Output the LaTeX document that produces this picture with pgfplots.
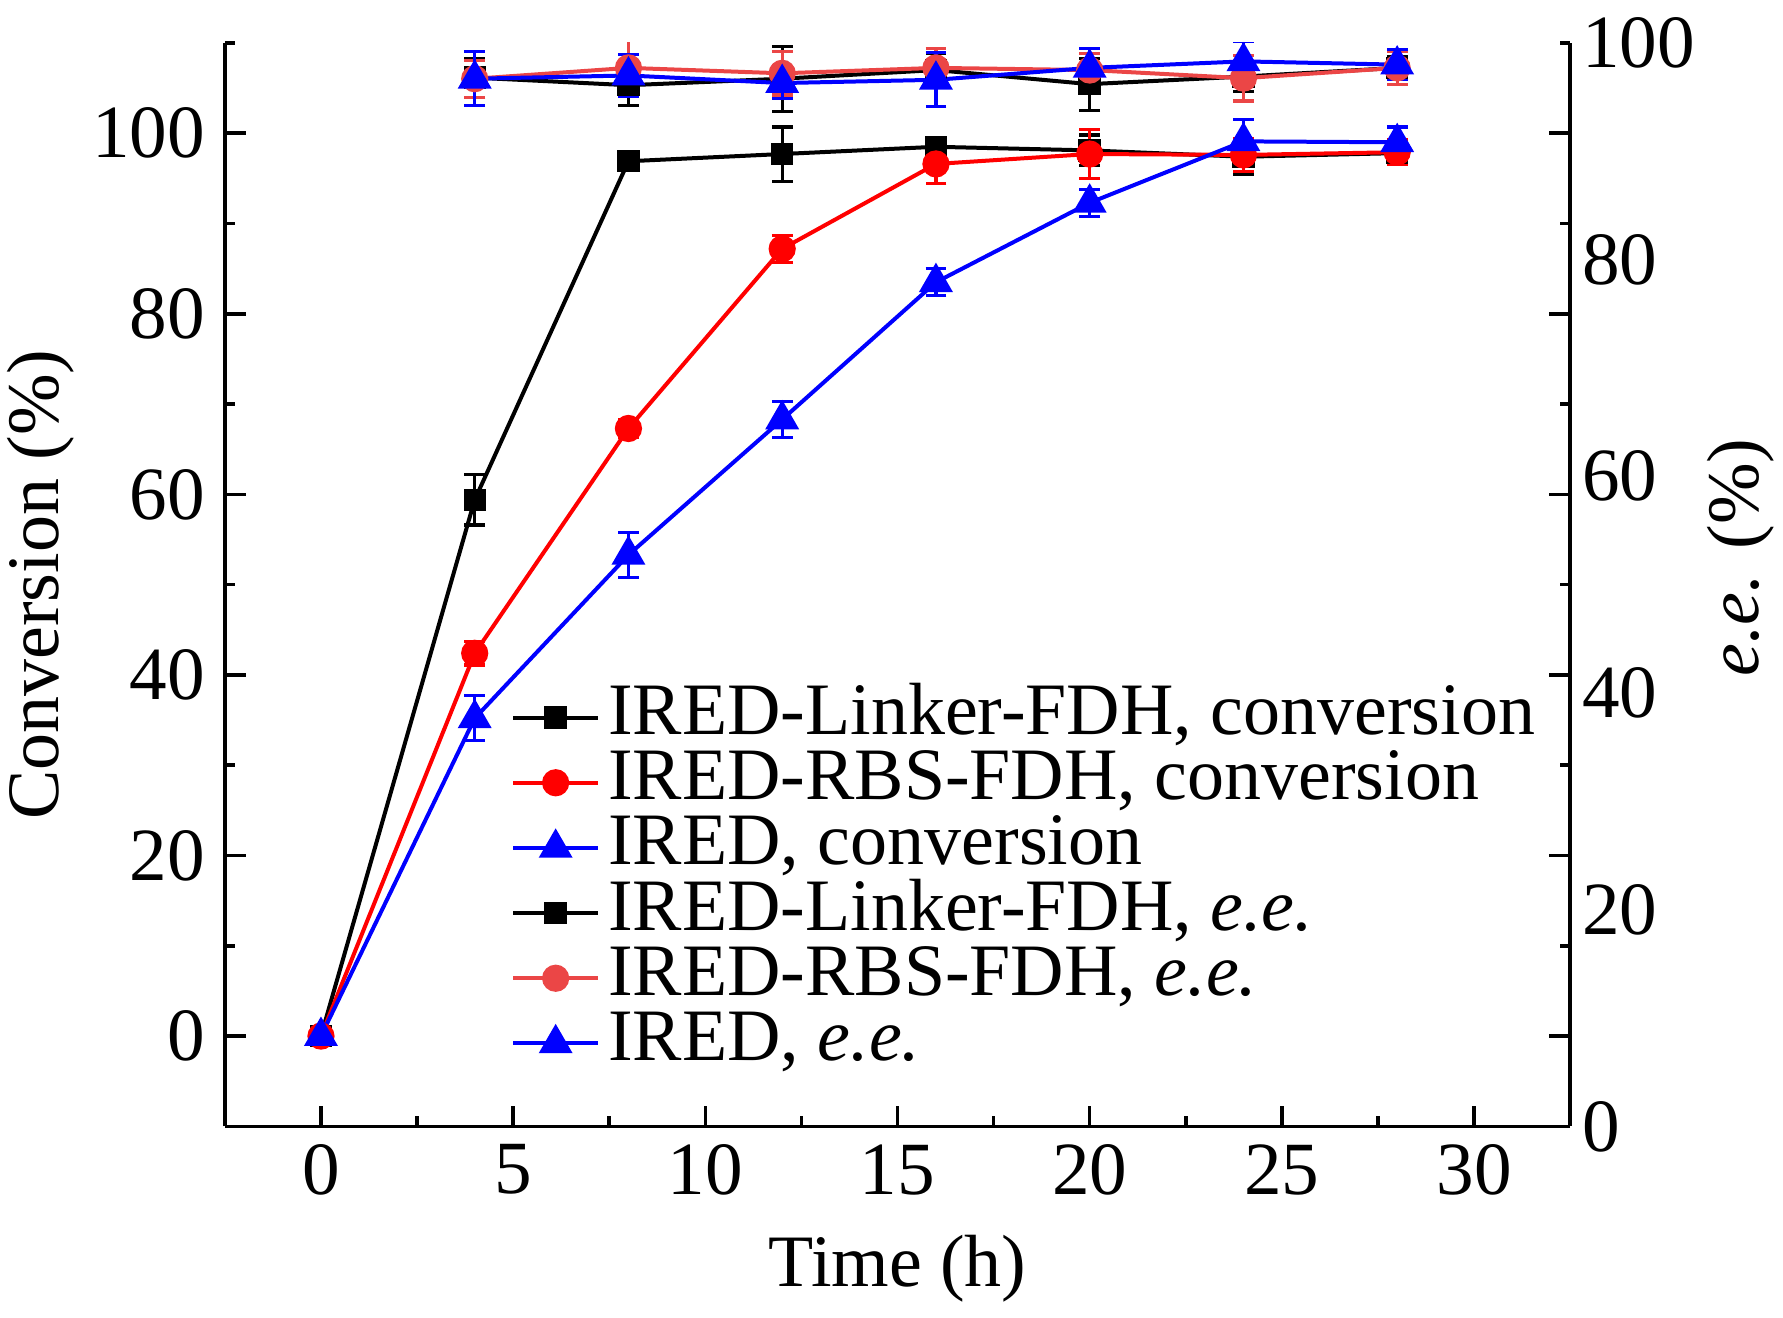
\documentclass[border=0pt]{standalone}
\usepackage{fontspec}
\setmainfont{Liberation Serif}
\usepackage{pgfplots}
\pgfplotsset{compat=1.18}
\usetikzlibrary{calc}
\definecolor{lred}{RGB}{235,70,70}
\begin{document}
\begin{tikzpicture}
\pgfplotsset{
  common/.style={scale only axis, width=336.5pt, height=271pt, xmin=-2.5, xmax=32.5,
    /pgf/number format/assume math mode=true,
    tick label style={font=\fontsize{18.8}{22}\selectfont},
    label style={font=\fontsize{18.5}{22}\selectfont},
    axis line style={line width=0.9pt},
    every tick/.style={line width=0.9pt, black},
  },
}
\begin{axis}[common, name=ee, axis x line=none, axis y line*=right,
  ymin=0, ymax=100, ytick={0,20,...,100}, major tick length=0pt, minor tick length=0pt,
  ylabel={\textit{e.e.} (\%)},
  ylabel style={at={(axis description cs:1.127,0.525)}, anchor=center},
  yticklabel style={xshift=-0.5pt}]
\addplot[black, line width=1pt, mark=square*, mark size=2.3pt,
  error bars/.cd, y dir=both, y explicit, error bar style={line width=0.8pt}, error mark options={rotate=90, mark size=2.6pt, line width=0.8pt}]
  coordinates {(4,96.8) +- (0,1.8) (8,96.1) +- (0,1.9) (12,96.7) +- (0,3.0) (16,97.5) +- (0,1.5) (20,96.2) +- (0,2.4) (24,96.9) +- (0,1.4) (28,97.7) +- (0,1.0)};
\addplot[lred, line width=1pt, mark=*, mark size=2.9pt,
  error bars/.cd, y dir=both, y explicit, error bar style={line width=0.8pt}, error mark options={rotate=90, mark size=2.6pt, line width=0.8pt}]
  coordinates {(4,96.7) +- (0,1.7) (8,97.7) +- (0,2.5) (12,97.2) +- (0,2.0) (16,97.7) +- (0,1.8) (20,97.5) +- (0,1.5) (24,96.75) +- (0,2.1) (28,97.7) +- (0,1.5)};
\addplot[blue, line width=1pt, mark=triangle*, mark size=3.9pt,
  error bars/.cd, y dir=both, y explicit, error bar style={line width=0.8pt}, error mark options={rotate=90, mark size=2.6pt, line width=0.8pt}]
  coordinates {(4,96.7) +- (0,2.5) (8,97.0) +- (0,1.9) (12,96.3) +- (0,1.4) (16,96.6) +- (0,2.5) (20,97.7) +- (0,1.8) (24,98.3) +- (0,1.8) (28,98.0) +- (0,1.4)};
\end{axis}
\begin{axis}[common, name=main, axis x line*=bottom, axis y line*=box,
  ymin=-10, ymax=110,
  xtick={0,5,...,30}, minor xtick={2.5,7.5,...,27.5},
  ytick={0,20,...,100}, minor ytick={-10,10,...,110},
  tick align=inside, major tick length=5.2pt, minor tick length=2.6pt,
  yticklabel pos=left,
  yticklabel style={xshift=-1.5pt},
  xticklabel style={yshift=-1pt},
  xlabel={Time (h)}, ylabel={Conversion (\%)},
  xlabel style={at={(axis description cs:0.5,-0.131)}, anchor=center},
  ylabel style={at={(axis description cs:-0.1367,0.5)}, anchor=center},
  legend style={draw=none, fill=none, at={(axis description cs:0.2129,0.4074)}, anchor=north west,
    inner sep=0pt, outer sep=0pt, font=\fontsize{18.5}{22}\selectfont, row sep=0pt,
    nodes={inner sep=0pt, text height=12.4pt, text depth=3.9pt},
    /tikz/every odd column/.append style={column sep=2pt}},
  legend cell align=left,
  legend image code/.code={\draw[mark repeat=2,mark phase=2] plot coordinates {(0pt,0pt)(10.6pt,0pt)(21.25pt,0pt)};}]
\addplot[black, line width=1pt, mark=square*, mark size=2.3pt,
  error bars/.cd, y dir=both, y explicit, error bar style={line width=0.8pt}, error mark options={rotate=90, mark size=2.6pt, line width=0.8pt}]
  coordinates {(0,0) +- (0,0) (4,59.4) +- (0,2.8) (8,96.9) +- (0,0.8) (12,97.7) +- (0,3.0) (16,98.5) +- (0,1.0) (20,98.1) +- (0,1.7) (24,97.4) +- (0,2.0) (28,97.8) +- (0,1.0)};
\addlegendentry{IRED-Linker-FDH, conversion}
\addplot[red, line width=1pt, mark=*, mark size=2.9pt,
  error bars/.cd, y dir=both, y explicit, error bar style={line width=0.8pt}, error mark options={rotate=90, mark size=2.6pt, line width=0.8pt}]
  coordinates {(0,0) +- (0,0) (4,42.4) +- (0,1.3) (8,67.3) +- (0,1.0) (12,87.2) +- (0,1.5) (16,96.6) +- (0,2.2) (20,97.7) +- (0,2.7) (24,97.6) +- (0,1.8) (28,97.9) +- (0,1.4)};
\addlegendentry{IRED-RBS-FDH, conversion}
\addplot[blue, line width=1pt, mark=triangle*, mark size=3.9pt,
  error bars/.cd, y dir=both, y explicit, error bar style={line width=0.8pt}, error mark options={rotate=90, mark size=2.6pt, line width=0.8pt}]
  coordinates {(0,0) +- (0,0) (4,35.2) +- (0,2.5) (8,53.3) +- (0,2.5) (12,68.3) +- (0,2.0) (16,83.5) +- (0,1.5) (20,92.3) +- (0,1.5) (24,99.1) +- (0,2.4) (28,99.0) +- (0,1.7)};
\addlegendentry{IRED, conversion}
\addlegendimage{black, line width=1pt, mark=square*, mark size=2.3pt}
\addlegendentry{IRED-Linker-FDH, \textit{e.e.}}
\addlegendimage{lred, line width=1pt, mark=*, mark size=2.9pt}
\addlegendentry{IRED-RBS-FDH, \textit{e.e.}}
\addlegendimage{blue, line width=1pt, mark=triangle*, mark size=3.9pt}
\addlegendentry{IRED, \textit{e.e.}}
\end{axis}
\pgfresetboundingbox
\path[use as bounding box] ($(main.south west)+(-56.25pt,-47.75pt)$) rectangle ($(main.north east)+(53.25pt,10.75pt)$);
\end{tikzpicture}
\end{document}
